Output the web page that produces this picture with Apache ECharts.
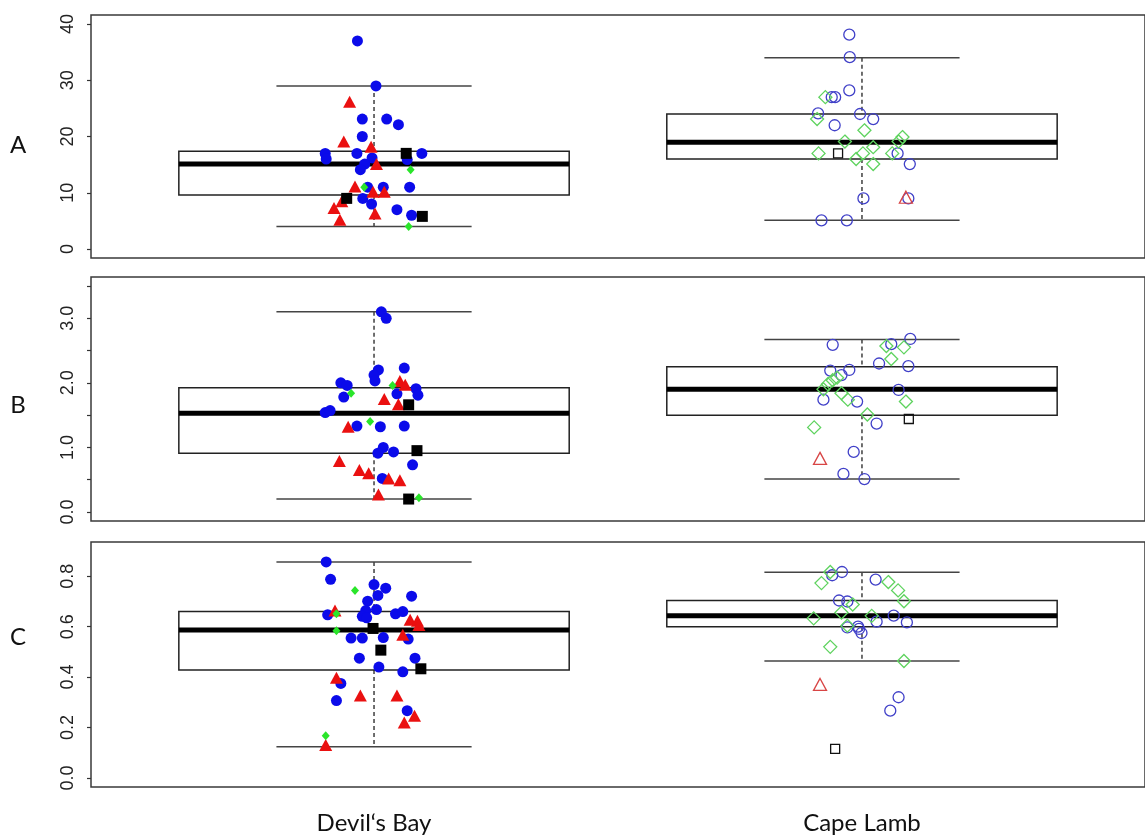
<!DOCTYPE html>
<html>
<head>
<meta charset="utf-8">
<script src="https://cdn.jsdelivr.net/npm/echarts@6/dist/echarts.min.js"></script>
<style>
html,body{margin:0;padding:0;background:#fff;}
#chart{width:1145px;height:838px;}
</style>
</head>
<body>
<div id="chart"></div>
<script>
// ---------------- DATA ----------------
const categories = ["Devil\u2018s Bay", "Cape Lamb"];
const panelLetters = ["A", "B", "C"];

// y-axis ticks / labels
const ticksA = [0, 10, 20, 30, 40];
const labelsA = [0, 10, 20, 30, 40];
const ticksB = [0, 0.5, 1, 1.5, 2, 2.5, 3, 3.5];
const labelsB = [0, 1, 2, 3];
const ticksC = [0, 0.2, 0.4, 0.6, 0.8];
const labelsC = [0, 0.2, 0.4, 0.6, 0.8];

// box statistics: [lower whisker, Q1, median, Q3, upper whisker] for Devil's Bay, Cape Lamb
const boxA = [[4.0, 9.6, 15.1, 17.4, 29.0], [5.1, 16.0, 19.0, 24.0, 34.0]];
const boxB = [[0.2, 0.91, 1.53, 1.925, 3.1], [0.51, 1.5, 1.9, 2.25, 2.67]];
const boxC = [[0.124, 0.428, 0.587, 0.66, 0.857], [0.464, 0.6, 0.643, 0.704, 0.816]];

// jittered points: [jitter offset from category position, value]
const A_DB_blue = [[-0.034,37.0],[0.004,29.0],[-0.024,23.1],[0.026,23.1],[0.050,22.1],[-0.024,20.0],[-0.100,17.0],[-0.098,16.0],[-0.035,17.0],[-0.004,16.2],[-0.019,15.1],[-0.028,14.1],[0.098,17.0],[0.068,15.9],[-0.013,11.0],[0.019,11.0],[0.073,11.0],[-0.023,9.0],[-0.005,8.0],[0.047,7.0],[0.077,6.0]];
const A_DB_red = [[-0.050,26.2],[-0.062,19.1],[-0.006,18.2],[0.005,15.1],[-0.039,11.1],[-0.002,10.2],[0.021,10.2],[-0.066,8.5],[-0.082,7.3],[-0.070,5.2],[0.002,6.3]];
const A_DB_green = [[0.075,14.1],[-0.020,11.0],[0.071,4.0]];
const A_DB_black = [[0.066,17.0],[-0.056,9.0],[0.099,5.8]];
const A_CL_blue = [[-0.026,38.1],[-0.025,34.1],[-0.026,28.2],[-0.062,27.0],[-0.055,27.0],[-0.090,24.1],[-0.004,24.0],[0.023,23.1],[-0.056,22.0],[0.073,17.0],[0.098,15.1],[0.003,9.0],[0.095,9.0],[-0.083,5.1],[-0.031,5.1]];
const A_CL_green = [[-0.075,27.0],[-0.092,23.1],[0.005,21.1],[0.083,19.9],[0.075,19.1],[-0.035,19.1],[0.023,18.1],[-0.089,17.0],[0.002,17.0],[0.062,17.0],[-0.012,16.0],[0.023,15.1]];
const A_CL_black = [[-0.049,17.0]];
const A_CL_red = [[0.090,9.2]];

const B_DB_blue = [[0.015,3.10],[0.025,3.0],[0.009,2.2],[0.0,2.12],[0.002,2.03],[0.062,2.23],[-0.068,2.0],[-0.055,1.96],[-0.062,1.78],[0.086,1.91],[0.090,1.81],[0.047,1.83],[-0.100,1.54],[-0.090,1.57],[-0.035,1.33],[0.013,1.32],[0.062,1.33],[0.019,1.0],[0.008,0.91],[0.040,0.93],[0.079,0.73],[0.017,0.52]];
const B_DB_red = [[0.053,2.03],[0.064,1.97],[0.021,1.75],[0.050,1.67],[-0.053,1.32],[-0.071,0.79],[-0.030,0.65],[-0.011,0.60],[0.030,0.52],[0.053,0.49],[0.009,0.27]];
const B_DB_green = [[0.038,1.96],[-0.047,1.84],[-0.008,1.40],[0.092,0.22]];
const B_DB_black = [[0.071,1.66],[0.088,0.95],[0.071,0.20]];
const B_CL_blue = [[-0.060,2.59],[0.099,2.68],[0.060,2.60],[0.035,2.30],[0.095,2.26],[-0.065,2.19],[-0.026,2.20],[-0.042,2.12],[0.075,1.89],[-0.079,1.74],[-0.010,1.71],[0.030,1.37],[-0.017,0.93],[-0.038,0.59],[0.005,0.51]];
const B_CL_green = [[0.050,2.57],[0.086,2.55],[0.060,2.37],[-0.051,2.08],[-0.060,2.04],[-0.070,1.98],[-0.079,1.90],[-0.042,1.84],[-0.029,1.74],[0.090,1.71],[0.011,1.51],[-0.098,1.31]];
const B_CL_black = [[0.096,1.44]];
const B_CL_red = [[-0.086,0.83]];

const C_DB_blue = [[-0.098,0.857],[-0.089,0.788],[0.0,0.767],[0.024,0.753],[0.008,0.724],[0.077,0.721],[-0.013,0.701],[-0.017,0.664],[0.005,0.668],[-0.095,0.647],[-0.024,0.641],[-0.015,0.635],[0.044,0.651],[0.059,0.66],[-0.047,0.555],[-0.024,0.555],[0.019,0.557],[0.070,0.551],[-0.030,0.475],[0.084,0.475],[0.010,0.44],[0.059,0.421],[-0.068,0.375],[-0.077,0.307],[0.068,0.267]];
const C_DB_red = [[-0.080,0.664],[0.074,0.628],[0.089,0.624],[0.092,0.607],[0.059,0.568],[-0.077,0.397],[-0.028,0.327],[0.047,0.327],[0.083,0.247],[0.062,0.22],[-0.099,0.131]];
const C_DB_green = [[-0.039,0.744],[-0.077,0.651],[-0.077,0.584],[-0.099,0.167]];
const C_DB_black = [[-0.002,0.593],[0.014,0.507],[0.096,0.433]];
const C_CL_blue = [[-0.041,0.817],[-0.061,0.804],[0.028,0.787],[-0.047,0.704],[-0.030,0.70],[0.065,0.644],[0.030,0.62],[0.092,0.617],[-0.030,0.597],[-0.008,0.60],[-0.006,0.591],[-0.001,0.575],[0.075,0.32],[0.058,0.267]];
const C_CL_green = [[-0.065,0.817],[-0.083,0.773],[0.054,0.777],[0.074,0.744],[0.086,0.701],[-0.019,0.688],[-0.042,0.656],[0.020,0.643],[-0.099,0.633],[-0.030,0.604],[-0.065,0.52],[0.086,0.464]];
const C_CL_red = [[-0.086,0.371]];
const C_CL_black = [[-0.055,0.115]];

// ---------------- LAYOUT / STYLE ----------------
const panels = [
  { box: boxA, ticks: ticksA, labels: labelsA, min: -1.6, max: 41.6, dec: 0,
    pts: { DB: {blue: A_DB_blue, red: A_DB_red, green: A_DB_green, black: A_DB_black},
           CL: {blue: A_CL_blue, red: A_CL_red, green: A_CL_green, black: A_CL_black} },
    grid: {left: 91, top: 15, width: 1058, height: 243}, letterY: 145 },
  { box: boxB, ticks: ticksB, labels: labelsB, min: -0.14, max: 3.64, dec: 1,
    pts: { DB: {blue: B_DB_blue, red: B_DB_red, green: B_DB_green, black: B_DB_black},
           CL: {blue: B_CL_blue, red: B_CL_red, green: B_CL_green, black: B_CL_black} },
    grid: {left: 91, top: 277, width: 1058, height: 244}, letterY: 405 },
  { box: boxC, ticks: ticksC, labels: labelsC, min: -0.036, max: 0.936, dec: 1,
    pts: { DB: {blue: C_DB_blue, red: C_DB_red, green: C_DB_green, black: C_DB_black},
           CL: {blue: C_CL_blue, red: C_CL_red, green: C_CL_green, black: C_CL_black} },
    grid: {left: 91, top: 542, width: 1058, height: 245}, letterY: 637 }
];

const filledStyle = {
  blue:  {symbol: 'circle',   size: 11,      color: '#0b0bea'},
  red:   {symbol: 'triangle', size: [13,12], color: '#ea1010'},
  green: {symbol: 'diamond',  size: [8,9],   color: '#2ae52a'},
  black: {symbol: 'rect',     size: 11,      color: '#000000'}
};
const openStyle = {
  blue:  {symbol: 'circle',   size: 11,      color: '#4040c8'},
  red:   {symbol: 'triangle', size: [13,12], color: '#d84545'},
  green: {symbol: 'diamond',  size: [13,13], color: '#5fd35f'},
  black: {symbol: 'rect',     size: 9,       color: '#111111'}
};
const drawOrder = ['blue', 'red', 'green', 'black'];

function renderBox(params, api) {
  const x = api.value(0), lo = api.value(1), q1 = api.value(2), med = api.value(3), q3 = api.value(4), hi = api.value(5);
  const hw = 0.4, sw = 0.2;
  const tl = api.coord([x - hw, q3]), br = api.coord([x + hw, q1]);
  const mL = api.coord([x - hw, med]), mR = api.coord([x + hw, med]);
  const hL = api.coord([x - sw, hi]), hR = api.coord([x + sw, hi]);
  const lL = api.coord([x - sw, lo]), lR = api.coord([x + sw, lo]);
  const cHi = api.coord([x, hi]), cQ3 = api.coord([x, q3]), cQ1 = api.coord([x, q1]), cLo = api.coord([x, lo]);
  return {
    type: 'group',
    children: [
      {type: 'line', shape: {x1: cHi[0], y1: cHi[1], x2: cQ3[0], y2: cQ3[1]}, style: {stroke: '#222', lineWidth: 1.3, lineDash: [4, 3]}},
      {type: 'line', shape: {x1: cQ1[0], y1: cQ1[1], x2: cLo[0], y2: cLo[1]}, style: {stroke: '#222', lineWidth: 1.3, lineDash: [4, 3]}},
      {type: 'line', shape: {x1: hL[0], y1: hL[1], x2: hR[0], y2: hR[1]}, style: {stroke: '#444', lineWidth: 1.5}},
      {type: 'line', shape: {x1: lL[0], y1: lL[1], x2: lR[0], y2: lR[1]}, style: {stroke: '#444', lineWidth: 1.5}},
      {type: 'rect', shape: {x: tl[0], y: tl[1], width: br[0] - tl[0], height: br[1] - tl[1]}, style: {fill: '#fff', stroke: '#222', lineWidth: 1.5}},
      {type: 'line', shape: {x1: mL[0], y1: mL[1], x2: mR[0], y2: mR[1]}, style: {stroke: '#000', lineWidth: 5}}
    ]
  };
}

const grids = [], xAxes = [], yAxes = [], series = [], graphics = [];
panels.forEach((p, i) => {
  grids.push(Object.assign({show: true, borderColor: '#3a3a3a', borderWidth: 1.5, backgroundColor: '#fff', containLabel: false}, p.grid));
  const isLast = i === panels.length - 1;
  xAxes.push({
    gridIndex: i, type: 'value', min: 0.42, max: 2.58,
    axisLine: {show: false}, axisTick: {show: false}, splitLine: {show: false},
    axisLabel: isLast ? {
      show: true, customValues: [1, 2], margin: 24,
      formatter: v => categories[Math.round(v) - 1],
      fontFamily: 'Lato', fontSize: 24, color: '#111'
    } : {show: false}
  });
  yAxes.push({
    gridIndex: i, type: 'value', min: p.min, max: p.max,
    axisLine: {show: false}, splitLine: {show: false},
    axisTick: {show: true, customValues: p.ticks, length: 4, lineStyle: {color: '#333', width: 1.2}},
    axisLabel: {
      show: true, customValues: p.labels, rotate: 90, margin: 14,
      formatter: v => Number(v).toFixed(p.dec),
      fontFamily: 'Liberation Sans', fontSize: 18, color: '#222'
    }
  });
  series.push({
    type: 'custom', xAxisIndex: i, yAxisIndex: i, z: 1, clip: false, silent: true,
    renderItem: renderBox,
    encode: {x: 0, y: [1, 2, 3, 4, 5]},
    data: p.box.map((b, k) => [k + 1].concat(b))
  });
  ['DB', 'CL'].forEach((site, k) => {
    const styles = site === 'DB' ? filledStyle : openStyle;
    drawOrder.forEach(col => {
      const arr = p.pts[site][col];
      const st = styles[col];
      const itemStyle = site === 'DB'
        ? {color: st.color, opacity: 1}
        : {color: 'rgba(255,255,255,0)', borderColor: st.color, borderWidth: 1.3, opacity: 1};
      series.push({
        type: 'scatter', xAxisIndex: i, yAxisIndex: i, z: 3, silent: true,
        symbol: st.symbol, symbolSize: st.size, itemStyle: itemStyle,
        data: arr.map(d => [k + 1 + d[0], d[1]])
      });
    });
  });
  graphics.push({
    type: 'text', x: 18, y: p.letterY,
    style: {text: panelLetters[i], font: '24px Lato', fill: '#111', textAlign: 'center', textVerticalAlign: 'middle'}
  });
});

const chart = echarts.init(document.getElementById('chart'), null, {renderer: 'canvas'});
chart.setOption({
  animation: false,
  backgroundColor: '#fff',
  grid: grids,
  xAxis: xAxes,
  yAxis: yAxes,
  series: series,
  graphic: graphics
});
</script>
</body>
</html>
